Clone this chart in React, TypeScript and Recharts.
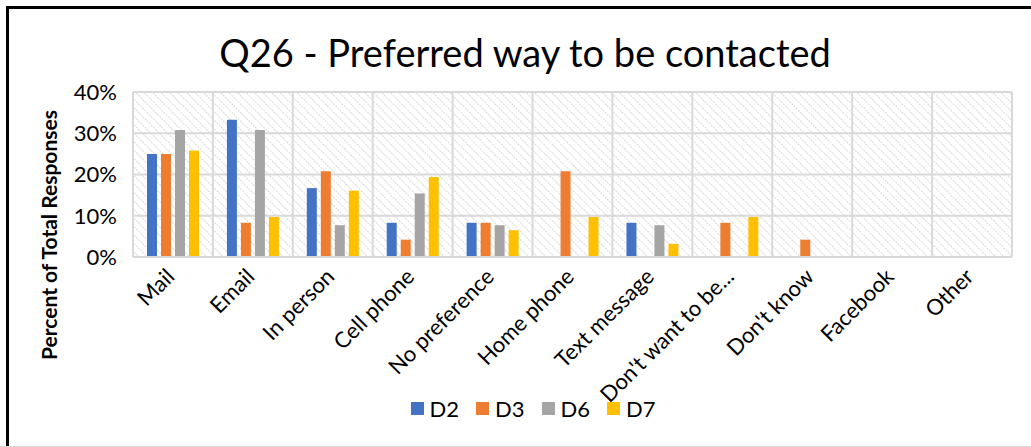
import React from 'react';
import { BarChart, Bar, XAxis, YAxis, CartesianGrid, Legend } from 'recharts';

const categories = [
  'Mail',
  'Email',
  'In person',
  'Cell phone',
  'No preference',
  'Home phone',
  'Text message',
  "Don't want to be...",
  "Don't know",
  'Facebook',
  'Other',
];

const d2 = [25, 33.3, 16.7, 8.3, 8.3, 0, 8.3, 0, 0, 0, 0];
const d3 = [25, 8.3, 20.8, 4.2, 8.3, 20.8, 0, 8.3, 4.2, 0, 0];
const d6 = [30.8, 30.8, 7.7, 15.4, 7.7, 0, 7.7, 0, 0, 0, 0];
const d7 = [25.8, 9.7, 16.1, 19.4, 6.5, 9.7, 3.2, 9.7, 0, 0, 0];

const yTicks = [0, 10, 20, 30, 40];

const seriesList = [
  { key: 'D2', values: d2, color: '#4472C4' },
  { key: 'D3', values: d3, color: '#ED7D31' },
  { key: 'D6', values: d6, color: '#A5A5A5' },
  { key: 'D7', values: d7, color: '#FFC000' },
];

const data = categories.map((name, i) => {
  const row: Record<string, string | number> = { name };
  seriesList.forEach((s) => {
    row[s.key] = s.values[i];
  });
  return row;
});

const FONT = 'Lato, "Open Sans", sans-serif';

const AngledTick = (props: any) => {
  const { x, y, payload } = props;
  const px = x + 3;
  const py = y + 13;
  return (
    <text
      x={px}
      y={py}
      transform={`rotate(-45 ${px} ${py})`}
      textAnchor="end"
      fontSize={22}
      fontFamily={FONT}
      fill="#000"
    >
      {payload.value}
    </text>
  );
};

const LegendContent = () => (
  <div
    style={{
      display: 'flex',
      justifyContent: 'center',
      alignItems: 'center',
      fontFamily: FONT,
      fontSize: 22,
      color: '#000',
      paddingLeft: 52,
    }}
  >
    {seriesList.map((s) => (
      <div key={s.key} style={{ display: 'flex', alignItems: 'center', marginRight: 17 }}>
        <div style={{ width: 13, height: 13, background: s.color, marginRight: 6 }} />
        <span>{s.key}</span>
      </div>
    ))}
  </div>
);

const YLabel = () => (
  <text
    x={48}
    y={235}
    transform="rotate(-90 48 235)"
    textAnchor="middle"
    dominantBaseline="central"
    fontSize={21}
    fontWeight="bold"
    fontFamily={FONT}
    fill="#000"
  >
    Percent of Total Responses
  </text>
);

export default function App() {
  return (
    <div
      style={{
        position: 'absolute',
        left: 0,
        top: 0,
        width: 1031,
        height: 447,
        background: '#fff',
        overflow: 'hidden',
      }}
    >
      <div
        style={{
          position: 'absolute',
          left: 6,
          top: 6,
          right: -10,
          bottom: 1,
          borderTop: '3px solid #000',
          borderLeft: '3px solid #000',
        }}
      />
      <div
        style={{
          position: 'absolute',
          left: 0,
          right: 0,
          bottom: 0,
          height: 1,
          background: '#d9d9d9',
        }}
      />
      <div
        style={{
          position: 'absolute',
          left: 0,
          width: 1050,
          top: 27,
          textAlign: 'center',
          fontFamily: FONT,
          fontSize: 38,
          color: '#000',
          lineHeight: '50px',
        }}
      >
        Q26 - Preferred way to be contacted
      </div>
      <BarChart
        width={1031}
        height={447}
        data={data}
        margin={{ top: 92, right: 19, left: 73, bottom: 22 }}
        barSize={10}
        barGap={4}
        style={{ position: 'absolute', left: 0, top: 0 }}
      >
        <defs>
          <pattern id="hatch" width="6" height="6" patternUnits="userSpaceOnUse" patternTransform="rotate(-45)">
            <rect width="6" height="6" fill="#fff" />
            <line x1="0" y1="0" x2="0" y2="6" stroke="#d9d9d9" strokeWidth="2" strokeDasharray="2 1" />
          </pattern>
        </defs>
        <CartesianGrid
          fill="url(#hatch)"
          stroke="#d9d9d9"
          strokeWidth={2}
          verticalCoordinatesGenerator={({ offset }: any) =>
            categories.map((_, i) => offset.left + (i * offset.width) / categories.length).concat([
              offset.left + offset.width,
            ])
          }
        />
        <XAxis
          dataKey="name"
          interval={0}
          tick={<AngledTick />}
          tickLine={false}
          axisLine={{ stroke: '#d9d9d9', strokeWidth: 2 }}
          height={138}
        />
        <YAxis
          domain={[0, 40]}
          ticks={yTicks}
          tickFormatter={(v: number) => `${v}%`}
          tick={{ fontSize: 22, fontFamily: FONT, fill: '#000', dx: -8 }}
          tickLine={false}
          axisLine={false}
          width={60}
          label={<YLabel />}
        />
        <Legend verticalAlign="bottom" height={30} content={<LegendContent />} wrapperStyle={{ left: 0, width: 1031 }} />
        {seriesList.map((s) => (
          <Bar key={s.key} dataKey={s.key} fill={s.color} isAnimationActive={false} />
        ))}
      </BarChart>
    </div>
  );
}
